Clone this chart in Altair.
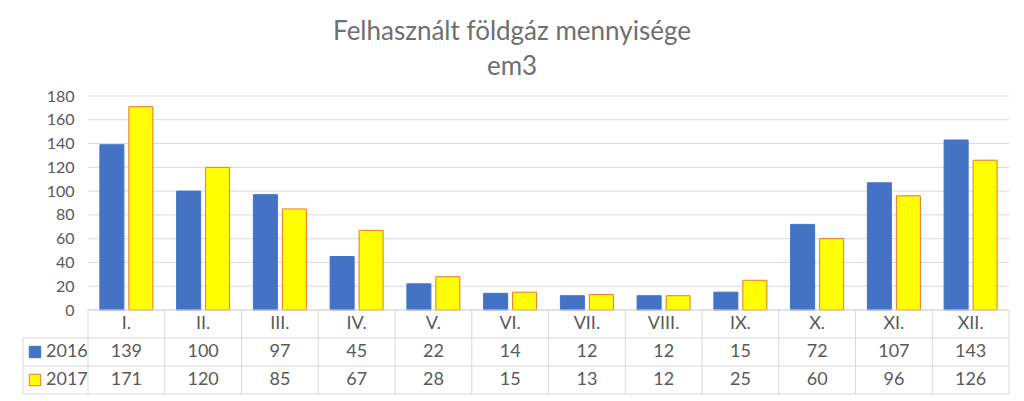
import altair as alt
import pandas as pd

months = ["I.", "II.", "III.", "IV.", "V.", "VI.", "VII.", "VIII.", "IX.", "X.", "XI.", "XII."]
years = ["2016", "2017"]
v2016 = [139, 100, 97, 45, 22, 14, 12, 12, 15, 72, 107, 143]
v2017 = [171, 120, 85, 67, 28, 15, 13, 12, 25, 60, 96, 126]
y_ticks = [0, 20, 40, 60, 80, 100, 120, 140, 160, 180]
title_lines = ["Felhasznált földgáz mennyisége", "em3"]

rows = []
for m, a, b in zip(months, v2016, v2017):
    rows.append({"month": m, "year": "2016", "value": a, "row": 1.5})
    rows.append({"month": m, "year": "2017", "value": b, "row": 2.5})
df = pd.DataFrame(rows)
month_df = pd.DataFrame({"month": months, "row": 0.5})
last_df = pd.DataFrame({"month": [months[-1]]})
legend_df = pd.DataFrame({"year": years, "row": [1.5, 2.5]})
grid_df = pd.DataFrame({"tick": y_ticks})
hline_df = pd.DataFrame({"line": [1, 2, 3]})

FONT = "Lato"
TXT = "#595959"
GRID = "#D9D9D9"
W, H = 986, 298
X0 = 65   # start of month columns inside plot area
YB = 214  # pixel of value 0

xscale = alt.Scale(domain=months, range=[X0, W], paddingInner=0, paddingOuter=0)
yval = alt.Scale(domain=[0, 180], range=[YB, 0], nice=False, zero=True)
ytab = alt.Scale(domain=[0, 3], range=[YB, H], nice=False, zero=False)
color = alt.Color("year:N", scale=alt.Scale(domain=years, range=["#4472C4", "#FFFF00"]), legend=None)
stroke = alt.Stroke("year:N", scale=alt.Scale(domain=years, range=["#4472C4", "#E8762D"]), legend=None)

grid = alt.Chart(grid_df).mark_rule(color=GRID, strokeWidth=1).encode(
    y=alt.Y("tick:Q", scale=yval, axis=None),
    x=alt.value(X0), x2=alt.value(W))

bars = alt.Chart(df).mark_bar(strokeWidth=1).encode(
    x=alt.X("month:N", scale=xscale, axis=None),
    xOffset=alt.XOffset("year:N", scale=alt.Scale(domain=years, paddingInner=0.172, paddingOuter=0.41)),
    y=alt.Y("value:Q", scale=yval, title=None,
            axis=alt.Axis(values=y_ticks, grid=False, domain=False, ticks=False, offset=-X0,
                          labelPadding=14, labelFont=FONT, labelFontSize=16, labelColor=TXT)),
    color=color, stroke=stroke)

vlines = alt.Chart(month_df).mark_rule(color=GRID).encode(
    x=alt.X("month:N", scale=xscale, axis=None, bandPosition=0),
    y=alt.YDatum(0, scale=ytab, axis=None), y2=alt.Y2Datum(3))
vlast = alt.Chart(last_df).mark_rule(color=GRID).encode(
    x=alt.X("month:N", scale=xscale, axis=None, bandPosition=1),
    y=alt.YDatum(0, scale=ytab, axis=None), y2=alt.Y2Datum(3))
vleft = alt.Chart(last_df).mark_rule(color=GRID).encode(
    x=alt.value(0),
    y=alt.YDatum(1, scale=ytab, axis=None), y2=alt.Y2Datum(3))
htop = alt.Chart(last_df).mark_rule(color=GRID).encode(
    y=alt.YDatum(0, scale=ytab, axis=None), x=alt.value(X0), x2=alt.value(W))
hlines = alt.Chart(hline_df).mark_rule(color=GRID).encode(
    y=alt.Y("line:Q", scale=ytab, axis=None), x=alt.value(0), x2=alt.value(W))

mtext = alt.Chart(month_df).mark_text(font=FONT, fontSize=18, color=TXT, baseline="middle").encode(
    x=alt.X("month:N", scale=xscale, axis=None),
    y=alt.Y("row:Q", scale=ytab, axis=None),
    text="month:N")
vtext = alt.Chart(df).mark_text(font=FONT, fontSize=18, color=TXT, baseline="middle").encode(
    x=alt.X("month:N", scale=xscale, axis=None),
    y=alt.Y("row:Q", scale=ytab, axis=None),
    text="value:Q")
squares = alt.Chart(legend_df).mark_square(size=130, strokeWidth=1, opacity=1).encode(
    x=alt.value(12),
    y=alt.Y("row:Q", scale=ytab, axis=None),
    color=color, stroke=stroke)
ltext = alt.Chart(legend_df).mark_text(font=FONT, fontSize=18, color=TXT, align="left", baseline="middle").encode(
    x=alt.value(23),
    y=alt.Y("row:Q", scale=ytab, axis=None),
    text="year:N")

chart = alt.layer(grid, bars, vlines, vlast, vleft, htop, hlines, mtext, vtext, squares, ltext).resolve_scale(
    y="independent"
).properties(
    width=W, height=H,
    title=alt.TitleParams(text=title_lines, fontSize=26, font=FONT, color="#6F6F6F", fontWeight="normal",
                          anchor="middle", frame="group", offset=8, lineHeight=35, dx=-4),
    autosize=alt.AutoSizeParams(type="none"),
    padding={"left": 23, "top": 96, "right": 15, "bottom": 7},
).configure(background="white").configure_view(stroke=None, strokeWidth=0)

chart.save("out.html", embed_options={"renderer": "svg", "actions": False})
